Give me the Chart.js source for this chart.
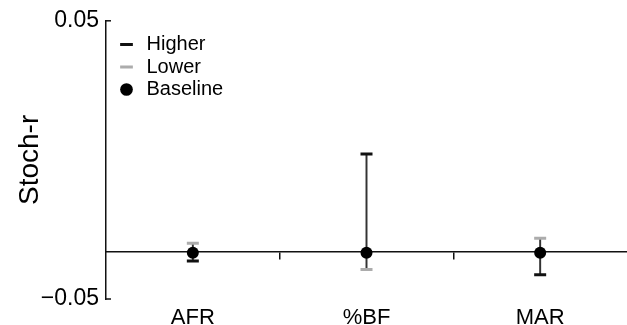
<!DOCTYPE html>
<html>
<head>
<meta charset="utf-8">
<script src="https://cdn.jsdelivr.net/npm/chart.js@4.4.1/dist/chart.umd.min.js"></script>
<style>
  html, body { margin: 0; padding: 0; background: #fff; }
  #wrap { width: 627px; height: 325px; }
</style>
</head>
<body>
<div id="wrap"><canvas id="myChart" width="627" height="325"></canvas></div>
<script>
// Data
const categories = ['AFR', '%BF', 'MAR'];
const baselineValues = [-0.0334, -0.0334, -0.0334];
const higherValues = [-0.0363, 0.0021, -0.0413];
const lowerValues = [-0.0300, -0.0394, -0.0282];
const yTickValues = [-0.05, 0.05];
const zeroLineValue = -0.0331;

const FONT = "'Liberation Sans', Arial, Helvetica, sans-serif";

// Range between higher and lower for the thin vertical whisker
const whiskerRanges = higherValues.map((h, i) => [Math.min(h, lowerValues[i]), Math.max(h, lowerValues[i])]);

// Small inward tick marks on the y axis
const yInwardTicks = {
    id: 'yInwardTicks',
    afterDraw(chart) {
        const yScale = chart.scales.y;
        const ctx = chart.ctx;
        ctx.save();
        ctx.strokeStyle = '#111';
        ctx.lineWidth = 1.5;
        yTickValues.forEach((v) => {
            const py = yScale.getPixelForValue(v);
            ctx.beginPath();
            ctx.moveTo(yScale.right, py);
            ctx.lineTo(yScale.right + 5, py);
            ctx.stroke();
        });
        ctx.restore();
    }
};

// Nudge the legend into the upper-left corner of the plot
const legendNudge = {
    id: 'legendNudge',
    afterLayout(chart) {
        chart.legend.left += 8;
        chart.legend.top += 32;
    }
};

const noSidePadding = (scale) => {
    scale.paddingLeft = 0;
    scale.paddingRight = 0;
};

const ctx = document.getElementById('myChart');

new Chart(ctx, {
    type: 'bar',
    data: {
        labels: categories,
        datasets: [
            {
                type: 'line',
                label: 'Higher',
                data: higherValues,
                showLine: false,
                pointStyle: 'line',
                pointRadius: 6,
                pointHoverRadius: 6,
                borderColor: '#111',
                backgroundColor: '#111',
                borderWidth: 3,
                order: 1
            },
            {
                type: 'line',
                label: 'Lower',
                data: lowerValues,
                showLine: false,
                pointStyle: 'line',
                pointRadius: 6,
                pointHoverRadius: 6,
                borderColor: '#acacac',
                backgroundColor: '#acacac',
                borderWidth: 3,
                order: 1
            },
            {
                type: 'line',
                label: 'Baseline',
                data: baselineValues,
                showLine: false,
                pointStyle: 'circle',
                pointRadius: 6,
                pointHoverRadius: 6,
                borderColor: '#000',
                backgroundColor: '#000',
                borderWidth: 0,
                order: 0
            },
            {
                type: 'bar',
                label: '',
                data: whiskerRanges,
                backgroundColor: '#333',
                barThickness: 1.3,
                order: 2
            }
        ]
    },
    options: {
        responsive: false,
        animation: false,
        layout: { autoPadding: false, padding: { left: 13, top: 20, right: 0, bottom: 0 } },
        plugins: {
            tooltip: { enabled: false },
            legend: {
                position: 'chartArea',
                align: 'start',
                labels: {
                    usePointStyle: true,
                    boxWidth: 20,
                    boxHeight: 9,
                    padding: 2.5,
                    color: '#000',
                    font: { family: FONT, size: 20 },
                    filter: (item) => item.text !== '',
                    sort: (a, b) => a.datasetIndex - b.datasetIndex
                }
            }
        },
        scales: {
            x: {
                type: 'category',
                offset: true,
                position: 'bottom',
                border: { display: false },
                grid: { display: false, offset: true, drawTicks: false },
                ticks: { color: '#000', padding: 6, font: { family: FONT, size: 22 } },
                afterFit: (scale) => { scale.height = 26; noSidePadding(scale); }
            },
            x2: {
                type: 'category',
                labels: categories,
                offset: true,
                position: { y: zeroLineValue },
                border: { display: true, color: '#111', width: 1.5 },
                grid: {
                    display: true,
                    offset: true,
                    drawOnChartArea: false,
                    drawTicks: true,
                    tickLength: 7,
                    lineWidth: 1.5,
                    // only the marks between categories, not at the two ends
                    tickColor: (c) => (c.type !== 'tick' || c.index === 0) ? 'rgba(0,0,0,0)' : '#111'
                },
                ticks: { display: false },
                afterFit: (scale) => { scale.height = 0; noSidePadding(scale); }
            },
            y: {
                min: -0.05,
                max: 0.05,
                border: { display: true, color: '#111', width: 1.5 },
                grid: { display: false, drawTicks: false },
                afterBuildTicks: (scale) => { scale.ticks = yTickValues.map((v) => ({ value: v })); },
                ticks: {
                    color: '#000',
                    padding: 7,
                    font: { family: FONT, size: 23 },
                    callback: (value) => (value < 0 ? '\u2212' : '') + Math.abs(value).toFixed(2)
                },
                title: {
                    display: true,
                    text: 'Stoch-r',
                    color: '#000',
                    font: { family: FONT, size: 28 },
                    padding: 0
                },
                afterFit: (scale) => { scale.width = 93; }
            }
        }
    },
    plugins: [yInwardTicks, legendNudge]
});
</script>
</body>
</html>
